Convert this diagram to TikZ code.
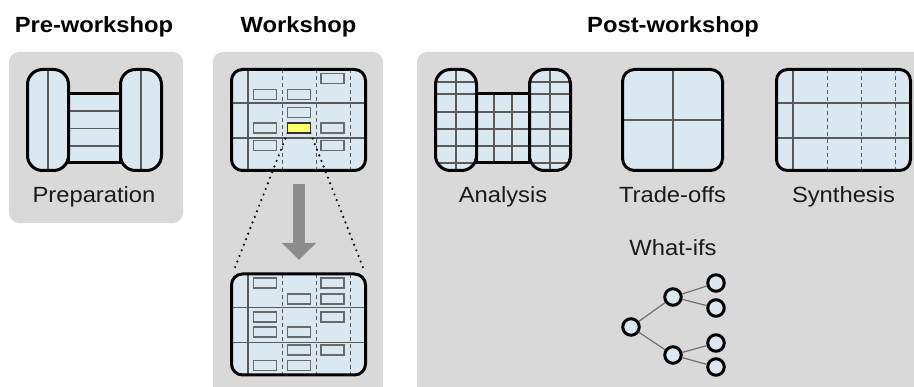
\documentclass[tikz,border=0pt]{standalone}
\usepackage{fontspec}
\setmainfont[FakeStretch=1.08]{Liberation Sans}
\usetikzlibrary{arrows.meta}
\definecolor{iceblue}{RGB}{218,232,241}
\definecolor{panelgray}{RGB}{217,217,217}
\definecolor{gridgray}{RGB}{90,90,90}
\definecolor{cardgray}{RGB}{105,105,105}
\definecolor{arrowgray}{RGB}{140,140,140}
\definecolor{yellowcard}{RGB}{255,255,102}
\definecolor{edgegray}{RGB}{112,112,112}
\definecolor{labeltext}{RGB}{26,26,26}

\tikzset{
  panel/.style={fill=panelgray, rounded corners=10pt},
  border/.style={draw=black, line width=3pt},
  gridline/.style={draw=gridgray, line width=1.2pt},
  dashline/.style={draw=gridgray, line width=1pt, dash pattern=on 4pt off 3pt},
  card/.style={draw=cardgray, fill=iceblue, line width=1.1pt, inner sep=0pt, outer sep=0pt,
    minimum width=23pt, minimum height=10pt},
  hotcard/.style={card, fill=yellowcard, draw=black!80},
  title/.style={font=\fontsize{22}{26}\selectfont\bfseries, text=black, anchor=base, inner sep=0pt},
  label/.style={font=\fontsize{22}{26}\selectfont, text=labeltext, anchor=base, inner sep=0pt},
  dotline/.style={draw=black, line width=2.4pt, dash pattern=on 0pt off 6pt, line cap=round},
  bigarrow/.style={draw=arrowgray, line width=12pt, -{Triangle[width=33pt,length=17pt]}},
  wnode/.style={circle, draw=black, fill=iceblue, line width=3pt, minimum size=16.5pt, inner sep=0pt},
  wedge/.style={draw=edgegray, line width=1.2pt}
}

% workshop-style board, outer top-left corner (#1,#2), outer size 137 x 104
\newcommand{\wsboard}[2]{%
  \fill[iceblue, rounded corners=11pt] (#1+1.5,#2+1.5) rectangle (#1+135.5,#2+102.5);
  \draw[gridline] (#1+18,#2+1.5) -- (#1+18,#2+102.5);
  \foreach \dx in {52,86,120} {\draw[dashline] (#1+\dx,#2+1.5) -- (#1+\dx,#2+102.5);}
  \foreach \dy in {35,70} {\draw[gridline] (#1+1.5,#2+\dy) -- (#1+135.5,#2+\dy);}
}
\newcommand{\wsborder}[2]{%
  \draw[border, rounded corners=11pt] (#1+1.5,#2+1.5) rectangle (#1+135.5,#2+102.5);
}
% pill, outer left edge #1, horizontal lines at y list #2
\newcommand{\mkpill}[2]{%
  \fill[iceblue, rounded corners=15pt] (#1+1.5,69.5) rectangle (#1+42.5,170.5);
  \begin{scope}
    \clip[rounded corners=15pt] (#1+1.5,69.5) rectangle (#1+42.5,170.5);
    \draw[gridline] (#1+22,60) -- (#1+22,180);
    \foreach \yy in {#2} {\draw[gridline] (#1,\yy) -- (#1+44,\yy);}
  \end{scope}
  \draw[border, rounded corners=15pt] (#1+1.5,69.5) rectangle (#1+42.5,170.5);
}

\begin{document}
\begin{tikzpicture}[x=1pt, y=-1pt]
\useasboundingbox (0,0) rectangle (914,387);
\clip (0,0) rectangle (914,387);

% ---------- panels ----------
\fill[panel] (9,52) rectangle (183,223);
\fill[panel] (213,52) rectangle (383,400);
\fill[panel] (417,52) rectangle (940,400);

% ---------- titles ----------
\node[title] (tpre)  at (94,33)  {Pre-workshop};
\node[title] (twork) at (298.5,33) {Workshop};
\node[title] (tpost) at (673,33) {Post-workshop};

% ---------- Preparation icon ----------
\fill[iceblue] (68.5,94) rectangle (120.5,163);
\foreach \yy in {111,128.5,146} {\draw[gridline] (68.5,\yy) -- (120.5,\yy);}
\draw[border] (68.5,94) rectangle (120.5,163);
\mkpill{26}{0}
\mkpill{119}{0}
\node[label] (lprep) at (94,203) {Preparation};

% ---------- Workshop top board ----------
\wsboard{230}{68}
\node[card] (t1) at (332.5,78.5) {};
\node[card] (t2) at (265,94.5) {};
\node[card] (t3) at (299,94.5) {};
\node[card] (t4) at (299,112.5) {};
\node[card] (t5) at (265,128) {};
\node[hotcard] (hot) at (299,128) {};
\node[card] (t6) at (332.5,128) {};
\node[card] (t7) at (265,145.5) {};
\node[card] (t8) at (332.5,145.5) {};
\wsborder{230}{68}

% ---------- Workshop bottom board ----------
\wsboard{230}{272.5}
\node[card] (b1) at (265,283) {};
\node[card] (b2) at (332.5,283) {};
\node[card] (b3) at (299,299) {};
\node[card] (b4) at (332.5,299) {};
\node[card] (b5) at (265,317) {};
\node[card] (b6) at (332.5,317) {};
\node[card] (b7) at (265,332) {};
\node[card] (b8) at (299,332) {};
\node[card] (b9) at (299,350) {};
\node[card] (b10) at (332.5,350) {};
\node[card] (b11) at (265,365.5) {};
\node[card] (b12) at (299,365.5) {};
\wsborder{230}{272.5}

% zoom connectors
\coordinate (zl) at (234,270);
\coordinate (zr) at (364,270);
\draw[dotline] (hot.south west) -- (zl);
\draw[dotline] (hot.south east) -- (zr);
\coordinate (atop) at (299,184);
\coordinate (abot) at (299,260);
\draw[bigarrow] (atop) -- (abot);

% ---------- Analysis icon ----------
\fill[iceblue] (476.5,94) rectangle (529.5,163);
\foreach \yy in {112,129,146} {\draw[gridline] (476.5,\yy) -- (529.5,\yy);}
\foreach \xx in {494,512} {\draw[gridline] (\xx,94) -- (\xx,163);}
\draw[border] (476.5,94) rectangle (529.5,163);
\mkpill{434}{82,94,112,129,146,163}
\mkpill{528}{82,94,112,129,146,163}
\node[label] (lana) at (503,203) {Analysis};

% ---------- Trade-offs icon ----------
\fill[iceblue, rounded corners=12pt] (622.5,69.5) rectangle (722.5,170.5);
\draw[gridline] (673,69.5) -- (673,170.5);
\draw[gridline] (622.5,120) -- (722.5,120);
\draw[border, rounded corners=12pt] (622.5,69.5) rectangle (722.5,170.5);
\node[label] (ltrade) at (672.5,203) {Trade-offs};

% ---------- Synthesis icon ----------
\wsboard{775}{68}
\wsborder{775}{68}
\node[label] (lsyn) at (843.5,203) {Synthesis};

% ---------- What-ifs ----------
\node[label] (lwhat) at (673,256) {What-ifs};
\node[wnode] (r)  at (631,327) {};
\node[wnode] (m1) at (673,297) {};
\node[wnode] (m2) at (673,355) {};
\node[wnode] (l1) at (716,283) {};
\node[wnode] (l2) at (716,308) {};
\node[wnode] (l3) at (716,343) {};
\node[wnode] (l4) at (716,367) {};
\draw[wedge] (r) -- (m1);
\draw[wedge] (r) -- (m2);
\draw[wedge] (m1) -- (l1);
\draw[wedge] (m1) -- (l2);
\draw[wedge] (m2) -- (l3);
\draw[wedge] (m2) -- (l4);
\end{tikzpicture}
\end{document}
